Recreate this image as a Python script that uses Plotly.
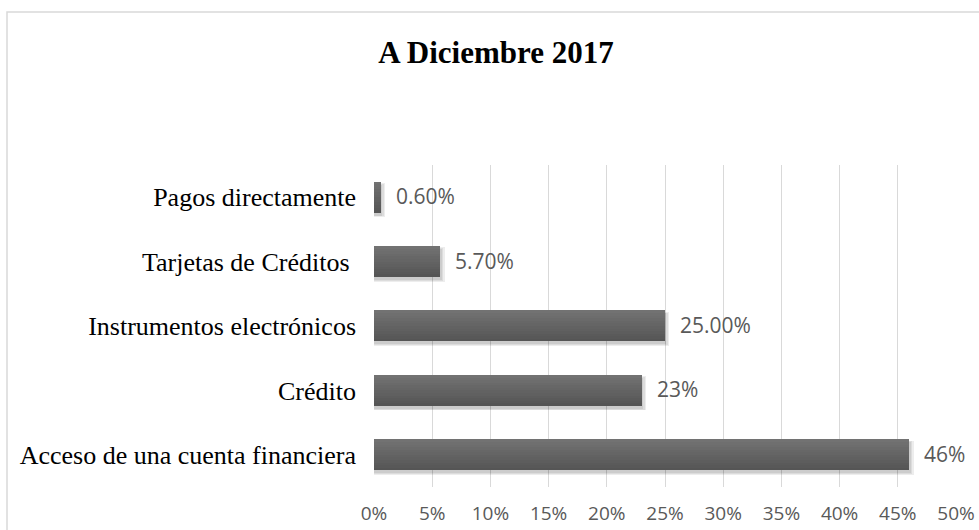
import plotly.graph_objects as go

# Data
categories = ["Acceso de una cuenta financiera", "Crédito", "Instrumentos electrónicos",
              "Tarjetas de Créditos ", "Pagos directamente"]
values = [46, 23, 25, 5.7, 0.6]
value_labels = ["46%", "23%", "25.00%", "5.70%", "0.60%"]
x_ticks = [0, 5, 10, 15, 20, 25, 30, 35, 40, 45, 50]

W, H = 979, 530
ML, MR, MT, MB = 374, 23, 165, 43
pw, ph = W - ML - MR, H - MT - MB

SANS = "Open Sans, DejaVu Sans, sans-serif"
SERIF = "Liberation Serif, Times New Roman, serif"
BAR_W = 0.48

fig = go.Figure()

# soft shadow under each bar (a few translucent layers, slightly larger each time)
for k in range(3):
    w = BAR_W + 0.025 * k
    fig.add_trace(go.Bar(
        y=categories, x=[v + 0.12 * (k + 1) for v in values], orientation="h",
        width=w, offset=-w / 2 - 0.045,
        marker=dict(color="rgba(0,0,0,0.07)", line=dict(width=0)),
        hoverinfo="skip", showlegend=False,
    ))

# bars drawn as horizontal strips for a light-top / dark-bottom gradient
n_strips = 12
top_rgb, bot_rgb = (0x72, 0x72, 0x72), (0x55, 0x55, 0x55)
strip = BAR_W / n_strips
for i in range(n_strips):
    t = i / (n_strips - 1)
    c = tuple(round(bot_rgb[j] + (top_rgb[j] - bot_rgb[j]) * t) for j in range(3))
    fig.add_trace(go.Bar(
        y=categories, x=values, orientation="h",
        width=strip * 1.05, offset=-BAR_W / 2 + i * strip,
        marker=dict(color="rgb(%d,%d,%d)" % c, line=dict(width=0)),
        hoverinfo="skip" if i else None, showlegend=False,
    ))

# value labels just past the end of each bar
for cat, v, lab in zip(categories, values, value_labels):
    fig.add_annotation(x=v, y=cat, text=lab, showarrow=False, xanchor="left",
                       xshift=13, yshift=1,
                       font=dict(family=SANS, size=21, color="#595959"))

# outer chart frame
px_x = lambda p: (p - ML) / pw
px_y = lambda p: (H - MB - p) / ph
fig.add_shape(type="rect", xref="paper", yref="paper",
              x0=px_x(7), x1=px_x(1000), y0=px_y(560), y1=px_y(12),
              line=dict(color="#d9d9d9", width=1.5), fillcolor="rgba(0,0,0,0)", layer="below")

fig.update_layout(
    width=W, height=H,
    margin=dict(l=ML, r=MR, t=MT, b=MB),
    paper_bgcolor="white", plot_bgcolor="white",
    barmode="overlay", bargap=0,
    title=dict(text="<b>A Diciembre 2017</b>", x=496 / W, xanchor="center",
               y=1 - 52 / H, yanchor="middle",
               font=dict(family=SERIF, size=31, color="black")),
    xaxis=dict(range=[0, 50], tickvals=x_ticks, ticktext=[f"{v}%" for v in x_ticks],
               showgrid=True, gridcolor="#d9d9d9", gridwidth=1, zeroline=False,
               showline=False, ticks="", ticklabelstandoff=13, automargin=False,
               tickfont=dict(family=SANS, size=19, color="#595959")),
    yaxis=dict(showgrid=False, zeroline=False, showline=False, ticks="",
               ticklabelstandoff=17, range=[-0.5, 4.5], automargin=False,
               tickfont=dict(family=SERIF, size=26, color="black")),
)

fig.write_html("out.html")
